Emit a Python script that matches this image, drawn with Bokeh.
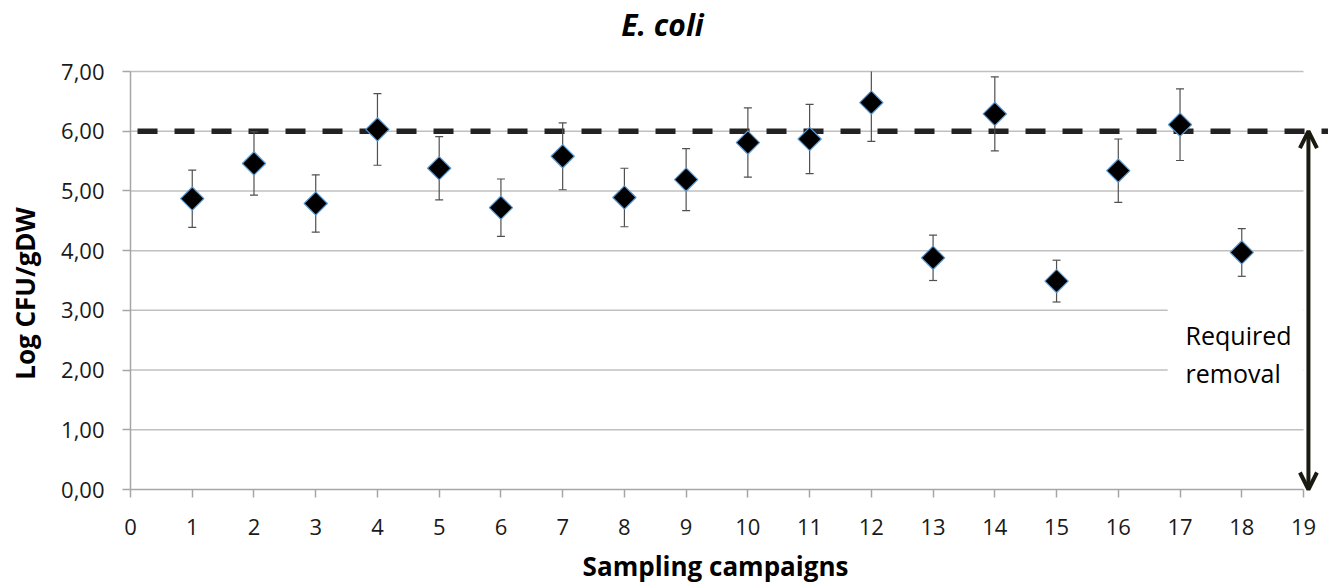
from bokeh.plotting import figure
from bokeh.models import (Range1d, FixedTicker, Arrow, OpenHead, Label,
                          BoxAnnotation, ColumnDataSource)
from bokeh.embed import file_html
from bokeh.resources import INLINE

# ---------------- data ----------------
campaigns = list(range(1, 19))
log_cfu = [4.87, 5.46, 4.79, 6.03, 5.38, 4.72, 5.58, 4.89, 5.19,
           5.81, 5.87, 6.48, 3.88, 6.29, 3.49, 5.34, 6.11, 3.97]
err = [0.48, 0.53, 0.48, 0.60, 0.53, 0.48, 0.56, 0.49, 0.52,
       0.58, 0.58, 0.65, 0.38, 0.62, 0.35, 0.53, 0.60, 0.40]
x_ticks = list(range(0, 20))
y_ticks = [0, 1, 2, 3, 4, 5, 6, 7]
y_tick_labels = ["0,00", "1,00", "2,00", "3,00", "4,00", "5,00", "6,00", "7,00"]
threshold = 6.0
title_text = "E. coli"
x_label = "Sampling campaigns"
y_label = "Log CFU/gDW"
annot_text = "Required\nremoval"

# ---------------- layout constants ----------------
# the frame covers the whole page; both axes are pinned at 0
X_START = -2.106
X_END = 19.405
Y_START = -1.574
Y_END = 8.189
ARROW_X = 19.08
FONT = "Open Sans"
AXIS_COLOR = "#a6a6a6"
GRID_COLOR = "#c0c0c0"
Y_MAX = y_ticks[-1]

p = figure(width=1328, height=583, output_backend="svg", toolbar_location=None,
           x_range=Range1d(X_START, X_END), y_range=Range1d(Y_START, Y_END),
           min_border_left=0, min_border_right=0, min_border_bottom=0,
           min_border_top=0)
p.outline_line_color = None
p.xgrid.visible = False
p.ygrid.visible = False

# axes
xa = p.xaxis[0]
xa.ticker = FixedTicker(ticks=x_ticks)
xa.bounds = (x_ticks[0], x_ticks[-1])
xa.fixed_location = 0
ya = p.yaxis[0]
ya.ticker = FixedTicker(ticks=y_ticks)
ya.bounds = (y_ticks[0], y_ticks[-1])
ya.fixed_location = 0
ya.major_label_overrides = {t: l for t, l in zip(y_ticks, y_tick_labels)}
for ax in (xa, ya):
    ax.axis_line_color = AXIS_COLOR
    ax.axis_line_width = 1.5
    ax.major_tick_line_color = AXIS_COLOR
    ax.major_tick_line_width = 1.5
    ax.major_tick_out = 8
    ax.major_tick_in = 0
    ax.minor_tick_line_color = None
    ax.major_label_text_font = FONT
    ax.major_label_text_font_size = "22px"
    ax.major_label_text_color = "#1a1a1a"
xa.major_label_standoff = 21
ya.major_label_standoff = 18

# gridlines (1..7)
gy = y_ticks[1:]
grid_src = ColumnDataSource(dict(x0=[x_ticks[0]] * len(gy), x1=[x_ticks[-1]] * len(gy), y=gy))
p.segment(x0="x0", y0="y", x1="x1", y1="y", source=grid_src,
          line_color=GRID_COLOR, line_width=1.5)

# threshold dashed line
p.segment(x0=[0], y0=[threshold], x1=[X_END], y1=[threshold],
          line_color="#222222", line_width=5.5, line_dash="20 17",
          line_dash_offset=30)

# error bars (clipped at the axis maximum, as in the original)
lo = [v - e for v, e in zip(log_cfu, err)]
hi = [v + e for v, e in zip(log_cfu, err)]
hi_draw = [min(h, Y_MAX) for h in hi]
p.segment(x0=campaigns, y0=lo, x1=campaigns, y1=hi_draw, line_color="#505050", line_width=1.2)
cap_x = campaigns + [c for c, h in zip(campaigns, hi) if h <= Y_MAX]
cap_y = lo + [h for h in hi if h <= Y_MAX]
p.scatter(x=cap_x, y=cap_y, marker="dash", size=8,
          line_color="#505050", line_width=1.2)

# diamonds
p.scatter(x=campaigns, y=log_cfu, marker="square", size=16.5, angle=45,
          angle_units="deg", fill_color="#000000", line_color="#5b9bd5",
          line_width=1.2)

# white mask behind annotation text
p.add_layout(BoxAnnotation(left=16.80, right=19.0, bottom=1.5, top=3.5,
                           fill_color="white", fill_alpha=1.0, line_alpha=0))
p.add_layout(Label(x=17.09, y=2.27, text=annot_text, text_font=FONT,
                   text_font_size="25px", text_color="#000000",
                   text_align="left", text_baseline="middle",
                   text_line_height=1.1))

# title
p.add_layout(Label(x=8.617, y=7.787, text=title_text, text_font=FONT,
                   text_font_size="30px", text_font_style="bold italic",
                   text_color="#000000", text_align="center",
                   text_baseline="middle"))

# axis titles
p.add_layout(Label(x=9.476, y=-1.273, text=x_label, text_font=FONT,
                   text_font_size="26px", text_font_style="bold",
                   text_color="#000000", text_align="center",
                   text_baseline="middle"))
p.add_layout(Label(x=-1.717, y=3.282, text=y_label, text_font=FONT,
                   text_font_size="26px", text_font_style="bold",
                   text_color="#000000", text_align="center",
                   text_baseline="middle", angle=90, angle_units="deg"))

# required removal arrow
p.add_layout(Arrow(x_start=ARROW_X, y_start=threshold, x_end=ARROW_X, y_end=0,
                   line_color="#1a1a10", line_width=4,
                   start=OpenHead(size=17, line_width=4, line_color="#1a1a10"),
                   end=OpenHead(size=17, line_width=4, line_color="#1a1a10")))

open("out.html", "w").write(file_html(p, INLINE))
